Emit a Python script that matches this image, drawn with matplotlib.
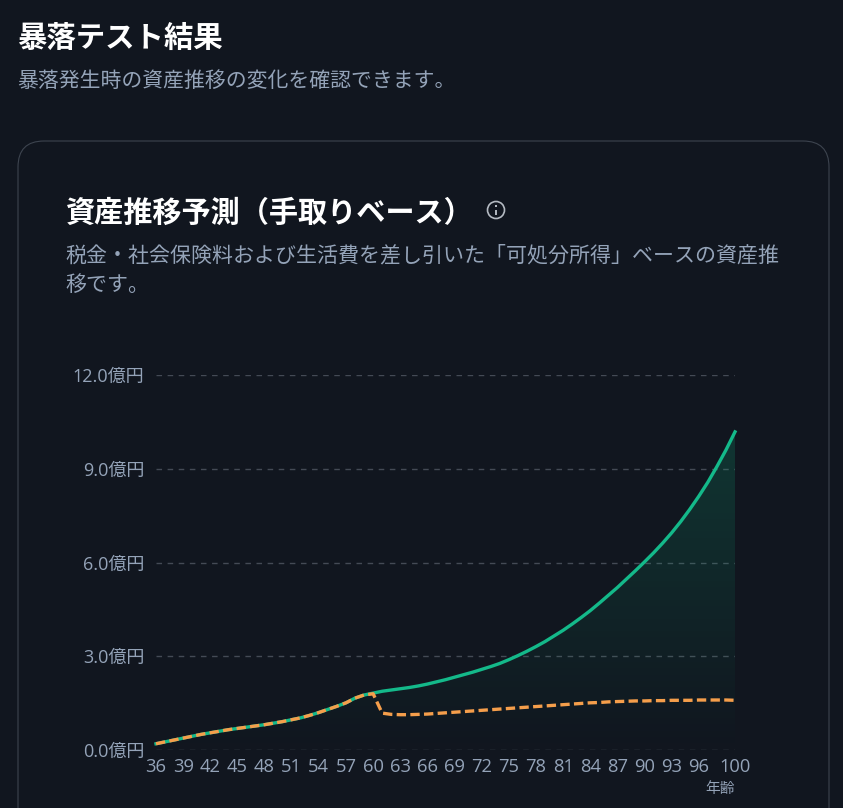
#!/usr/bin/env python3

import numpy as np
import matplotlib
matplotlib.use("Agg")
import matplotlib.pyplot as plt
from matplotlib.colors import LinearSegmentedColormap
from matplotlib.patches import Circle, FancyBboxPatch, Polygon

plt.rcParams["font.family"] = ["Noto Sans CJK JP", "DejaVu Sans"]

ages = list(range(36, 101))
# Values in 億円
baseline = [
    0.20, 0.26, 0.32, 0.38, 0.44, 0.50, 0.55, 0.60, 0.65, 0.69,
    0.73, 0.77, 0.81, 0.86, 0.91, 0.97, 1.03, 1.11, 1.20, 1.30,
    1.40, 1.51, 1.66, 1.76, 1.82, 1.88, 1.92, 1.96, 2.00, 2.05,
    2.11, 2.18, 2.25, 2.33, 2.41, 2.49, 2.58, 2.67, 2.77, 2.89,
    3.02, 3.16, 3.31, 3.47, 3.65, 3.83, 4.03, 4.24, 4.46, 4.70,
    4.95, 5.20, 5.47, 5.74, 6.02, 6.31, 6.62, 6.95, 7.31, 7.70,
    8.12, 8.57, 9.07, 9.60, 10.18,
]
crash = [
    0.20, 0.26, 0.32, 0.38, 0.44, 0.50, 0.55, 0.60, 0.65, 0.69,
    0.73, 0.77, 0.81, 0.86, 0.91, 0.97, 1.03, 1.11, 1.20, 1.30,
    1.40, 1.51, 1.66, 1.76, 1.80, 1.18, 1.14, 1.13, 1.13, 1.14,
    1.15, 1.17, 1.19, 1.21, 1.23, 1.25, 1.27, 1.29, 1.31, 1.33,
    1.35, 1.37, 1.39, 1.41, 1.43, 1.45, 1.47, 1.49, 1.51, 1.52,
    1.54, 1.55, 1.56, 1.57, 1.57, 1.58, 1.58, 1.59, 1.59, 1.59,
    1.60, 1.60, 1.60, 1.60, 1.59,
]
x_ticks = [36, 39, 42, 45, 48, 51, 54, 57, 60, 63, 66, 69, 72, 75, 78, 81, 84, 87, 90, 93, 96, 100]
y_ticks = [0, 3, 6, 9, 12]
y_labels = ["0.0億円", "3.0億円", "6.0億円", "9.0億円", "12.0億円"]

BG = "#11161f"
GREEN = "#14b98a"
ORANGE = "#f59e4b"
MUTED = "#94a3b8"
W, H = 843, 808
TICK_FONT = ["Open Sans", "Noto Sans CJK JP"]

fig = plt.figure(figsize=(W / 100, H / 100), dpi=100, facecolor=BG)

# Page layer in pixel coordinates
page = fig.add_axes([0, 0, 1, 1])
page.set_xlim(0, W)
page.set_ylim(H, 0)
page.axis("off")

page.add_patch(FancyBboxPatch((18, 141), 811, 800, boxstyle="round,pad=0,rounding_size=26",
                              fc=BG, ec="#3d444f", lw=0.8))

page.text(17, 38, "暴落テスト結果", color="white", fontsize=21.2, fontweight="bold", va="center")
page.text(17, 81, "暴落発生時の資産推移の変化を確認できます。", color=MUTED, fontsize=15, va="center")
page.text(65.5, 213, "資産推移予測（手取りベース）", color="white", fontsize=21, fontweight="bold", va="center")
page.text(65.5, 255, "税金・社会保険料および生活費を差し引いた「可処分所得」ベースの資産推",
          color=MUTED, fontsize=15.1, va="center")
page.text(65.5, 285, "移です。", color=MUTED, fontsize=15.1, va="center")

# info icon
page.add_patch(Circle((496, 210), 8.5, fc="none", ec="#b4bac2", lw=1.2))
page.plot([496, 496], [209.5, 215], color="#b4bac2", lw=1.4, solid_capstyle="butt")
page.plot([496], [206], marker="s", ms=1.6, mew=0, color="#b4bac2")

# Chart
ax = fig.add_axes([156 / W, 1 - 750 / H, (735 - 156) / W, (750 - 375) / H])
ax.patch.set_alpha(0)
for s in ax.spines.values():
    s.set_visible(False)

ax.set_xticks(x_ticks)
ax.set_yticks(y_ticks)
ax.set_yticklabels(y_labels)
ax.tick_params(axis="x", length=0, pad=6, labelsize=13.2, labelcolor=MUTED)
ax.tick_params(axis="y", length=0, pad=8.5, labelsize=13, labelcolor=MUTED)
for label in ax.get_xticklabels() + ax.get_yticklabels():
    label.set_fontfamily(TICK_FONT)
ax.grid(axis="y", color="#444a55", lw=1, dashes=(4, 4))
ax.set_axisbelow(True)

# Gradient fill under the baseline
cmap = LinearSegmentedColormap.from_list(
    "fade", [(0.063, 0.725, 0.506, 0.0), (0.063, 0.725, 0.506, 0.2)])
grad = np.linspace(0, 1, 256).reshape(-1, 1)
img = ax.imshow(grad, origin="lower", aspect="auto", cmap=cmap,
                extent=(36, 100, 0, max(baseline)), zorder=1.5)
clip = Polygon(list(zip(ages, baseline)) + [(100, 0), (36, 0)], closed=True,
               transform=ax.transData, fc="none", ec="none")
ax.add_patch(clip)
img.set_clip_path(clip)
ax.set_xlim(36, 100)
ax.set_ylim(0, 12)

ax.plot(ages, baseline, color=GREEN, lw=2.4, zorder=3, clip_on=False, solid_joinstyle="round")
ax.plot(ages, crash, color=ORANGE, lw=2.4, zorder=4, clip_on=False, dashes=(2.8, 1.3))

page.text(735, 789, "年齢", color=MUTED, fontsize=10.6, ha="right", va="center")

fig.savefig("out.png", dpi=100, facecolor=BG)
